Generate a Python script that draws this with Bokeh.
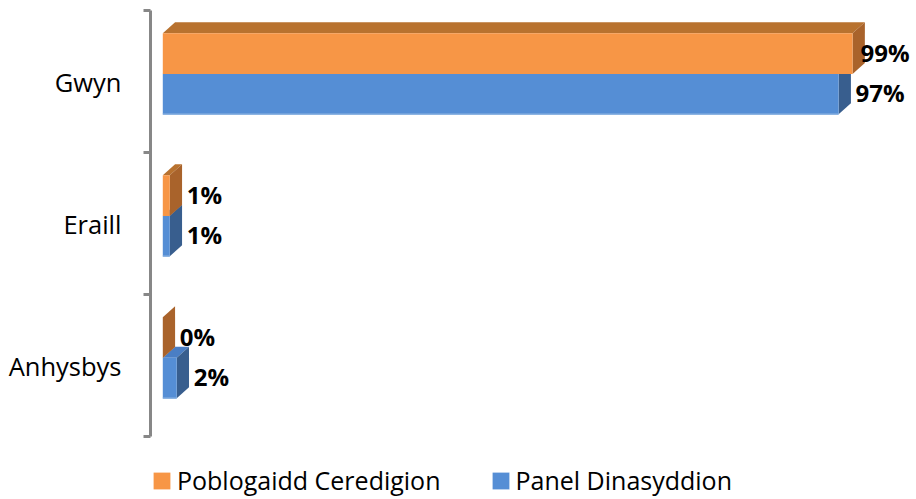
from bokeh.plotting import figure
from bokeh.models import Range1d, FixedTicker, Legend, LegendItem, ColumnDataSource
from bokeh.core.properties import value
from bokeh.embed import file_html
from bokeh.resources import INLINE

# ---- data ----
categories = ["Gwyn", "Eraill", "Anhysbys"]
poblogaidd = [99, 1, 0]
panel_vals = [97, 1, 2]
series_names = ["Poblogaidd Ceredigion", "Panel Dinasyddion"]

# ---- style ----
FONT = "Open Sans"
AX_COL = "#878787"
O_FRONT, O_TOP, O_SIDE = "#F79646", "#B8722F", "#A9632B"
B_FRONT, B_TOP, B_SIDE = "#558ED5", "#4A7EC4", "#385E8E"
B_EDGE = "#8DB4E2"

n = len(categories)
cat_y = [n - i - 0.5 for i in range(n)]
px_x = 6.97            # pixels per percent
px_y = 142.0           # pixels per category
depth_x = 12.3 / px_x  # 3D depth in data units
depth_y = 11.0 / px_y
bar_h = 0.286
shift_o, shift_b = 0.196, -0.088
legend_room = 61.0 / px_y
W = 912

p = figure(width=W, height=497, x_range=Range1d(-depth_x, (W - 162) / px_x),
           y_range=Range1d(-legend_room, n), output_backend="svg", toolbar_location=None,
           x_axis_location=None, min_border_left=150, min_border_right=0,
           min_border_top=10, min_border_bottom=0, outline_line_color=None)
p.xgrid.visible = False
p.ygrid.visible = False


def faces(vals, shift):
    xs_top, ys_top, xs_side, ys_side, yc = [], [], [], [], []
    for v, c in zip(vals, cat_y):
        m = c + shift
        t, b = m + bar_h / 2, m - bar_h / 2
        yc.append(m)
        xs_top.append([0, v, v + depth_x, depth_x])
        ys_top.append([t, t, t + depth_y, t + depth_y])
        xs_side.append([v, v, v + depth_x, v + depth_x])
        ys_side.append([b, t, t + depth_y, b + depth_y])
    return xs_top, ys_top, xs_side, ys_side, yc


renderers = []
for vals, shift, cols in [(panel_vals, shift_b, (B_FRONT, B_TOP, B_SIDE)),
                          (poblogaidd, shift_o, (O_FRONT, O_TOP, O_SIDE))]:
    xt, yt, xsd, ysd, yc = faces(vals, shift)
    p.patches(xt, yt, fill_color=cols[1], line_color=None)
    p.patches(xsd, ysd, fill_color=cols[2], line_color=None)
    src = ColumnDataSource(dict(y=yc, right=vals, yb=[y - bar_h / 2 for y in yc]))
    r = p.hbar(y="y", left=0, right="right", height=bar_h, source=src,
               fill_color=cols[0], line_color=None)
    if cols[0] == B_FRONT:
        p.segment(x0=0, y0="yb", x1="right", y1="yb", source=src,
                  line_color=B_EDGE, line_width=1.5)
    renderers.append(r)

# data labels
vmax = max(poblogaidd + panel_vals)
lx, ly, lt, lo = [], [], [], []
for vals, shift in [(poblogaidd, shift_o), (panel_vals, shift_b)]:
    for v, c in zip(vals, cat_y):
        lx.append(v)
        ly.append(c + shift)
        lt.append(f"{v}%")
        lo.append(8 if v == vmax else 17)
p.text(x="x", y="y", text="t", x_offset="o", y_offset=-1,
       source=ColumnDataSource(dict(x=lx, y=ly, t=lt, o=lo)),
       text_font=value(FONT), text_font_size="24px", text_font_style="bold",
       text_color="#000000", text_baseline="middle", text_align="left")

# axis
ax = p.yaxis[0]
ax.bounds = (0, n)
ax.ticker = FixedTicker(ticks=cat_y, minor_ticks=[float(i) for i in range(n + 1)])
ax.major_label_overrides = {c: lab for c, lab in zip(cat_y, categories)}
ax.axis_line_color = AX_COL
ax.axis_line_width = 3
ax.major_tick_out = 0
ax.major_tick_in = 0
ax.minor_tick_out = 7
ax.minor_tick_in = 0
ax.minor_tick_line_color = AX_COL
ax.minor_tick_line_width = 3
ax.major_label_standoff = 22
ax.major_label_text_font = FONT
ax.major_label_text_font_size = "25.5px"
ax.major_label_text_color = "#000000"

legend = Legend(items=[LegendItem(label=series_names[0], renderers=[renderers[1]]),
                       LegendItem(label=series_names[1], renderers=[renderers[0]])],
                orientation="horizontal", location=(1, 0),
                glyph_width=21, glyph_height=21, label_standoff=5, spacing=49,
                padding=0, margin=0, border_line_color=None,
                background_fill_alpha=0, label_text_font=FONT,
                label_text_font_size="25px", label_text_color="#000000")
p.add_layout(legend, "center")

open("out.html", "w").write(file_html(p, INLINE))
